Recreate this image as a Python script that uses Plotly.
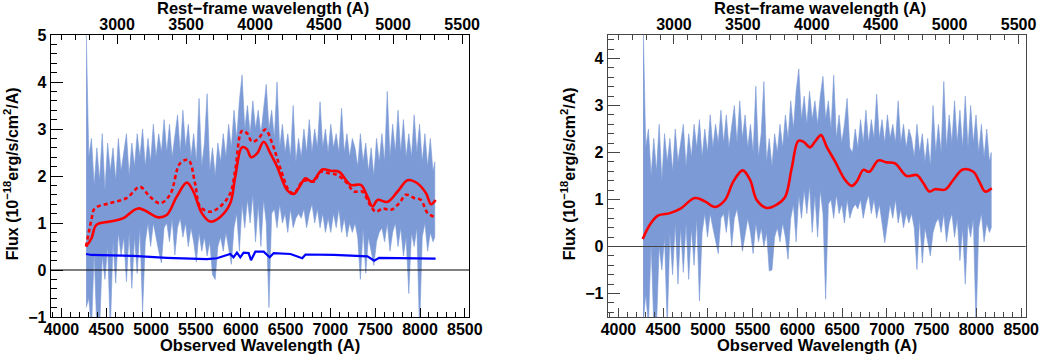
import plotly.graph_objects as go

# ---------------- data ----------------
redshift = 0.54
obs_range = [3880, 8550]

wave = [4275, 4305, 4335, 4365, 4395, 4425, 4455, 4485, 4515, 4545,
        4575, 4605, 4635, 4665, 4695, 4725, 4755, 4785, 4815, 4845,
        4875, 4905, 4935, 4965, 4995, 5025, 5055, 5085, 5115, 5145,
        5175, 5205, 5235, 5265, 5295, 5325, 5355, 5385, 5415, 5445,
        5475, 5505, 5535, 5565, 5595, 5625, 5655, 5685, 5715, 5745,
        5775, 5805, 5835, 5865, 5895, 5925, 5955, 5985, 6015, 6045,
        6075, 6105, 6135, 6165, 6195, 6225, 6255, 6285, 6315, 6345,
        6375, 6405, 6435, 6465, 6495, 6525, 6555, 6585, 6615, 6645,
        6675, 6705, 6735, 6765, 6795, 6825, 6855, 6885, 6915, 6945,
        6975, 7005, 7035, 7065, 7095, 7125, 7155, 7185, 7215, 7245,
        7275, 7305, 7335, 7365, 7395, 7425, 7455, 7485, 7515, 7545,
        7575, 7605, 7635, 7665, 7695, 7725, 7755, 7785, 7815, 7845,
        7875, 7905, 7935, 7965, 7995, 8025, 8055, 8085, 8115, 8145,
        8165]

# left panel: observed spectrum band (upper / lower envelope)
left_upper = [5.2, 2.4, 2.8, 1.8, 2.6, 1.9, 2.9, 1.7, 2.7, 2.1,
              2.6, 1.9, 2.8, 2.1, 2.5, 2.9, 2.0, 2.7, 2.2, 2.9,
              2.4, 3.0, 2.2, 2.8, 2.3, 3.1, 2.4, 2.9, 2.5, 3.2,
              2.5, 3.1, 2.4, 2.9, 3.3, 2.5, 3.4, 2.6, 3.1, 2.4,
              2.9, 2.3, 3.65, 2.2, 2.7, 3.75, 2.1, 2.6, 2.0, 2.7,
              2.3, 2.9, 2.4, 3.1, 2.6, 3.4, 2.8, 3.6, 4.15, 3.0,
              3.5, 2.9, 3.6, 3.0, 3.4, 2.9, 3.5, 3.95, 3.0, 3.4,
              2.8, 4.0, 2.6, 3.1, 2.5, 2.9, 2.4, 3.5, 2.3, 2.8,
              2.4, 3.0, 2.5, 3.2, 2.5, 3.0, 2.6, 3.58, 2.6, 3.0,
              2.5, 3.1, 2.6, 2.9, 2.5, 3.44, 2.5, 2.9, 2.4, 2.8,
              2.6, 2.2, 2.9, 2.3, 2.7, 2.1, 2.6, 2.0, 2.8, 2.3,
              2.9, 2.3, 3.8, 2.4, 3.1, 2.5, 3.4, 2.5, 3.2, 2.4,
              2.9, 2.4, 3.3, 2.5, 3.1, 2.3, 2.9, 2.2, 2.8, 2.1,
              2.3]
left_lower = [-0.8, -0.6, -1.3, 0.4, -1.3, -1.3, 0.3, -0.2, 0.5, -1.3,
              0.6, -0.28, 0.8, 0.3, 0.7, -0.25, 0.8, -0.39, 0.7, -0.07,
              0.9, -0.89, 0.6, 1.0, 0.5, 1.0, 0.7, 0.4, 0.15, 0.9,
              1.0, 0.6, 1.1, 0.32, 0.9, 1.1, 0.7, 1.0, 0.5, 0.9,
              0.6, 0.17, 0.8, 0.4, 0.7, 0.3, 0.6, -0.1, -0.2, 0.5,
              0.7, 0.4, 0.8, 0.5, 0.12, 0.9, 1.2, 0.4, 1.4, 0.9,
              1.5, 1.0, 1.6, 0.6, 1.4, 0.5, 1.5, 1.0, -0.8, 1.2,
              1.3, 0.9, 1.4, 1.0, 1.2, 0.8, 1.3, 0.9, 1.1, 1.2,
              1.1, 1.3, 0.9, 1.2, 1.4, 1.0, 1.3, 0.9, 1.2, 0.8,
              1.1, 0.8, 1.2, 0.9, 1.3, 0.8, 1.1, 0.7, 1.0, 0.8,
              1.0, 0.7, -0.2, 0.9, -0.07, 0.7, 0.4, 0.1, 0.6, 0.8,
              0.9, 0.6, 1.0, 0.4, 0.8, 1.0, 0.5, 0.9, 0.3, 0.7,
              -0.5, 0.8, 0.5, 0.9, -1.3, 0.7, 1.0, 0.4, 0.8, 0.6,
              0.7]

# left panel: model fits
fit_wave = [4274, 4334, 4390, 4539, 4688, 4856, 5080, 5174, 5286, 5398,
            5472, 5566, 5659, 5771, 5883, 5939, 6014, 6070, 6115, 6182,
            6256, 6331, 6406, 6518, 6592, 6667, 6723, 6798, 6910, 7003,
            7096, 7227, 7339, 7414, 7470, 7526, 7638, 7750, 7862, 7974,
            8068, 8123, 8174]
fit_total = [0.50, 0.67, 0.96, 1.03, 1.10, 1.31, 1.12, 1.17, 1.56, 1.86,
             1.67, 1.21, 1.03, 1.13, 1.42, 1.99, 2.61, 2.57, 2.40, 2.48,
             2.73, 2.48, 2.20, 1.70, 1.62, 1.81, 1.95, 1.88, 2.14, 2.11,
             2.09, 1.81, 1.81, 1.56, 1.35, 1.49, 1.45, 1.67, 1.91, 1.84,
             1.63, 1.40, 1.49]

dot_wave = [4274, 4334, 4371, 4539, 4726, 4875, 4987, 5099, 5211, 5323,
            5416, 5491, 5547, 5659, 5771, 5883, 5939, 6014, 6070, 6126,
            6200, 6275, 6350, 6443, 6536, 6592, 6686, 6742, 6816, 6891,
            6984, 7077, 7189, 7264, 7357, 7432, 7507, 7581, 7675, 7768,
            7843, 7936, 8010, 8085, 8160]
dot_flux = [0.50, 1.06, 1.31, 1.42, 1.53, 1.77, 1.56, 1.42, 1.60, 2.27,
            2.34, 1.84, 1.35, 1.24, 1.35, 1.63, 2.13, 2.96, 2.91, 2.73,
            2.80, 2.99, 2.70, 2.16, 1.70, 1.63, 1.88, 1.91, 1.88, 2.09,
            2.06, 2.02, 1.84, 1.67, 1.67, 1.42, 1.24, 1.31, 1.28, 1.42,
            1.60, 1.53, 1.49, 1.21, 1.13]

host_wave = [4274, 4334, 4800, 5174, 5622, 5734, 5883, 5920, 5958, 5995,
             6032, 6088, 6115, 6163, 6256, 6323, 6368, 6555, 6686, 6723,
             7040, 7414, 7488, 7544, 8174]
host_flux = [0.34, 0.32, 0.30, 0.26, 0.23, 0.25, 0.34, 0.27, 0.37, 0.27,
             0.37, 0.36, 0.21, 0.39, 0.39, 0.27, 0.36, 0.34, 0.25, 0.33,
             0.32, 0.29, 0.20, 0.26, 0.24]

# right panel: host-subtracted spectrum band
right_upper = [4.9, 2.1, 2.5, 1.5, 2.3, 1.6, 2.6, 1.4, 2.4, 1.8,
               2.3, 1.6, 2.5, 1.8, 2.2, 2.6, 1.7, 2.4, 1.9, 2.6,
               2.1, 2.7, 1.9, 2.5, 2.0, 2.8, 2.1, 2.6, 2.2, 2.9,
               2.2, 2.8, 2.1, 2.6, 3.0, 2.2, 3.1, 2.3, 2.8, 2.1,
               2.6, 2.0, 3.41, 1.9, 2.4, 3.51, 1.8, 2.3, 1.7, 2.4,
               2.0, 2.6, 2.1, 2.8, 2.3, 3.1, 2.5, 3.3, 3.78, 2.7,
               3.2, 2.6, 3.3, 2.7, 3.1, 2.6, 3.2, 3.62, 2.7, 3.1,
               2.5, 3.64, 2.3, 2.8, 2.2, 2.6, 3.15, 2.1, 2.0, 2.5,
               2.1, 2.7, 2.2, 2.9, 2.2, 2.7, 2.3, 3.24, 2.3, 2.7,
               2.2, 2.8, 2.3, 2.6, 2.2, 3.1, 2.2, 2.6, 2.1, 2.5,
               2.3, 1.9, 2.6, 2.0, 2.4, 1.8, 2.3, 1.7, 3.0, 2.0,
               2.6, 2.0, 3.51, 2.1, 2.8, 2.2, 3.1, 2.2, 2.9, 2.1,
               3.2, 2.1, 3.0, 2.2, 2.8, 2.0, 2.6, 1.9, 2.5, 1.8,
               2.0]
right_lower = [-1.7, -1.0, -1.7, 0.1, -1.7, -1.7, 0.0, -0.5, 0.2, -1.7,
               0.3, -0.6, 0.5, -0.8, 0.4, -0.55, 0.5, -0.7, 0.4, -0.4,
               0.6, -1.16, 0.3, 0.7, 0.2, 0.7, 0.4, 0.1, -0.15, 0.6,
               0.7, 0.3, 0.8, 0.0, 0.6, 0.8, 0.4, -0.1, 0.2, 0.6,
               0.3, -0.15, 0.5, 0.1, 0.4, 0.0, 0.3, -0.52, -0.5, 0.2,
               0.4, 0.1, 0.5, 0.2, -0.27, 0.6, 0.9, 0.1, 1.1, 0.6,
               1.2, 0.7, 1.3, 0.3, 1.1, 0.2, 1.2, 0.7, -1.12, 0.9,
               1.0, 0.6, 1.1, 0.7, 0.9, 0.5, 1.0, 0.6, 0.8, 0.9,
               0.8, 1.0, 0.6, 0.9, 1.1, 0.7, 1.0, 0.6, 0.9, 0.5,
               0.08, 0.5, 0.9, 0.6, 1.0, 0.5, 0.8, 0.4, 0.7, 0.5,
               0.7, 0.4, -0.49, 0.6, -0.35, 0.4, 0.1, -0.2, 0.3, 0.5,
               0.6, 0.3, 0.7, 0.1, 0.5, 0.7, 0.2, 0.6, -0.3, 0.4,
               -0.8, 0.5, 0.2, 0.6, -1.7, 0.4, 0.7, 0.1, 0.5, 0.3,
               0.4]

rfit_wave = [4271, 4353, 4445, 4576, 4688, 4855, 4967, 5079, 5191, 5283,
             5388, 5470, 5545, 5657, 5768, 5861, 5936, 6010, 6066, 6140,
             6196, 6263, 6327, 6420, 6531, 6606, 6662, 6736, 6803, 6903,
             6997, 7090, 7221, 7333, 7406, 7473, 7537, 7649, 7742, 7847,
             7965, 8032, 8096, 8171]
rfit_flux = [0.16, 0.47, 0.66, 0.71, 0.80, 1.03, 0.96, 0.84, 0.99, 1.38,
             1.62, 1.42, 0.99, 0.82, 0.89, 1.05, 1.67, 2.25, 2.23, 2.11,
             2.23, 2.37, 2.12, 1.81, 1.42, 1.29, 1.38, 1.63, 1.59, 1.83,
             1.79, 1.77, 1.50, 1.52, 1.35, 1.17, 1.22, 1.21, 1.42, 1.64,
             1.59, 1.38, 1.17, 1.24]

# ---------------- styling ----------------
BAND = "rgb(124,155,214)"
FONT = "Liberation Sans"
tickfont = dict(family=FONT, size=16, color="black", weight="bold")
titlefont = dict(family=FONT, size=16.5, color="black", weight="bold")
ytitlefont = dict(family=FONT, size=16, color="black", weight="bold")

fig = go.Figure()


def band(xa, ya, up, lo):
    fig.add_trace(go.Scatter(
        x=wave + wave[::-1], y=up + lo[::-1], xaxis=xa, yaxis=ya,
        mode="lines", fill="toself", fillcolor=BAND,
        line=dict(color=BAND, width=0.6), hoverinfo="skip", showlegend=False))


band("x", "y", left_upper, left_lower)
fig.add_trace(go.Scatter(x=host_wave, y=host_flux, xaxis="x", yaxis="y", mode="lines",
                         line=dict(color="rgb(0,0,255)", width=2.2), showlegend=False))
fig.add_trace(go.Scatter(x=dot_wave, y=dot_flux, xaxis="x", yaxis="y", mode="lines",
                         line=dict(color="rgb(255,0,0)", width=2.6, dash="4px,3px",
                                   shape="spline", smoothing=1.0), showlegend=False))
fig.add_trace(go.Scatter(x=fit_wave, y=fit_total, xaxis="x", yaxis="y", mode="lines",
                         line=dict(color="rgb(255,0,0)", width=2.6, shape="spline",
                                   smoothing=1.0), showlegend=False))
fig.add_trace(go.Scatter(x=[], y=[], xaxis="x3", yaxis="y", showlegend=False))

band("x2", "y2", right_upper, right_lower)
fig.add_trace(go.Scatter(x=rfit_wave, y=rfit_flux, xaxis="x2", yaxis="y2", mode="lines",
                         line=dict(color="rgb(255,0,0)", width=2.6, shape="spline",
                                   smoothing=1.0), showlegend=False))
fig.add_trace(go.Scatter(x=[], y=[], xaxis="x4", yaxis="y2", showlegend=False))

W, H = 1044, 354
dom_l = [50.7 / W, 469.3 / W]
dom_r = [607.7 / W, 1025.7 / W]
dom_y = [1 - 317 / H, 1 - 35 / H]
rest_range = [obs_range[0] / (1 + redshift), obs_range[1] / (1 + redshift)]


def xbottom(dom, anchor, col):
    return dict(domain=dom, anchor=anchor, range=obs_range, tick0=0, dtick=500,
                ticks="inside", ticklen=9, tickwidth=1, tickcolor=col,
                minor=dict(dtick=100, ticks="inside", ticklen=5, tickcolor=col),
                showline=True, linecolor=col, linewidth=1, mirror=False,
                showgrid=False, zeroline=False, tickfont=tickfont, automargin=False,
                ticklabelstandoff=-2)


def xtop(over, anchor, col):
    return dict(overlaying=over, anchor=anchor, side="top", range=rest_range,
                tick0=0, dtick=500, ticks="inside", ticklen=9, tickwidth=1,
                tickcolor=col,
                minor=dict(dtick=100, ticks="inside", ticklen=5, tickcolor=col),
                showline=True, linecolor=col, linewidth=1,
                showgrid=False, zeroline=False, tickfont=tickfont, automargin=False,
                ticklabelstandoff=-2)


def yaxis(rng, anchor, col):
    return dict(domain=dom_y, anchor=anchor, range=rng, tick0=0, dtick=1,
                ticks="inside", ticklen=12, tickwidth=1, tickcolor=col,
                minor=dict(dtick=0.2, ticks="inside", ticklen=6, tickcolor=col),
                showline=True, linecolor=col, linewidth=1, mirror=True,
                showgrid=False, zeroline=False, tickfont=tickfont, automargin=False)


LCOL = "black"
RCOL = "rgb(70,70,70)"
fig.update_layout(
    width=W, height=H, margin=dict(l=0, r=0, t=0, b=0, autoexpand=False),
    paper_bgcolor="white", plot_bgcolor="white", showlegend=False,
    xaxis=xbottom(dom_l, "y", LCOL),
    xaxis2=xbottom(dom_r, "y2", RCOL),
    xaxis3=xtop("x", "y", LCOL),
    xaxis4=xtop("x2", "y2", RCOL),
    yaxis=yaxis([-1, 5], "x", LCOL),
    yaxis2=yaxis([-1.5, 4.5], "x2", RCOL),
)

# zero lines drawn above the data
fig.add_shape(type="line", xref="x domain", yref="y", x0=0, x1=1, y0=0, y1=0,
              line=dict(color=LCOL, width=1), layer="above")
fig.add_shape(type="line", xref="x2 domain", yref="y2", x0=0, x1=1, y0=0, y1=0,
              line=dict(color=RCOL, width=1), layer="above")

ytitle = "Flux (10<sup>\u221218</sup>erg/s/cm<sup>2</sup>/A)"
for cx, xr in [((dom_l[0] + dom_l[1]) / 2, dom_l), ((dom_r[0] + dom_r[1]) / 2, dom_r)]:
    fig.add_annotation(text="Observed Wavelength (A)", x=cx, y=1 - 345 / H,
                       xref="paper", yref="paper", showarrow=False,
                       xanchor="center", yanchor="middle", font=titlefont)
    fig.add_annotation(text="Rest\u2212frame wavelength (A)", x=cx + 3 / W, y=1 - 8 / H,
                       xref="paper", yref="paper", showarrow=False,
                       xanchor="center", yanchor="middle", font=titlefont)
    fig.add_annotation(text=ytitle, x=xr[0] - 39.5 / W, y=1 - 174 / H,
                       xref="paper", yref="paper", showarrow=False, textangle=-90,
                       xanchor="center", yanchor="middle", font=ytitlefont)

fig.write_html("out.html", config={"displayModeBar": False, "staticPlot": True},
               post_script="document.body.style.margin='0';document.body.style.overflow='hidden';")
